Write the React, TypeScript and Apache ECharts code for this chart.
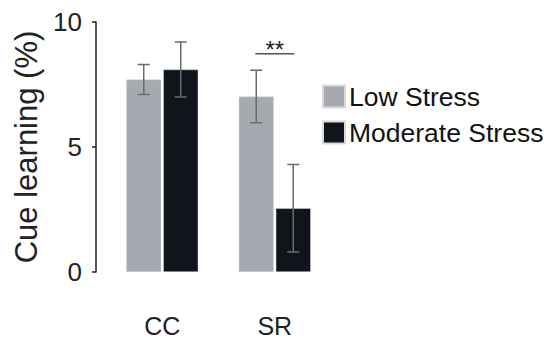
import React, { useEffect, useRef } from "react";
import * as echarts from "echarts";

const categories = ["CC", "SR"];
const lowStress = [7.7, 7.02];
const lowStressErr = [0.6, 1.05];
const moderateStress = [8.1, 2.55];
const moderateStressErr = [1.1, 1.75];
const yTicks = [0, 5, 10];
// significance bracket: [category index, y value, label]
const significance = [[1, 8.73, "**"]];

const FONT = "'Liberation Sans', Arial, sans-serif";
const BAR_W = 35;
const BAR_GAP_PX = 2;

function errorSeries(name: string, values: number[], errs: number[], side: number) {
  return {
    type: "custom",
    name: name + "-err",
    silent: true,
    z: 10,
    data: values.map((v, i) => [i, v - errs[i], v + errs[i]]),
    renderItem: (params: any, api: any) => {
      const idx = api.value(0);
      const lo = api.coord([idx, api.value(1)]);
      const hi = api.coord([idx, api.value(2)]);
      const x = lo[0] + side * (BAR_W / 2 + BAR_GAP_PX / 2);
      const cap = 6;
      const style = { stroke: "#6b6b6b", lineWidth: 1.5 };
      return {
        type: "group",
        children: [
          { type: "line", shape: { x1: x, y1: lo[1], x2: x, y2: hi[1] }, style },
          { type: "line", shape: { x1: x - cap, y1: lo[1], x2: x + cap, y2: lo[1] }, style },
          { type: "line", shape: { x1: x - cap, y1: hi[1], x2: x + cap, y2: hi[1] }, style },
        ],
      };
    },
  };
}

export default function App() {
  const ref = useRef<HTMLDivElement>(null);
  useEffect(() => {
    document.body.style.margin = "0";
    if (!ref.current) return;
    const chart = echarts.init(ref.current, undefined, { renderer: "svg" });
    chart.setOption({
      animation: false,
      backgroundColor: "#ffffff",
      grid: { left: 106, right: 213, top: 22, bottom: 68 },
      legend: {
        orient: "vertical",
        left: 317,
        top: 78,
        itemWidth: 22,
        itemHeight: 22,
        itemGap: 9,
        icon: "rect",
        data: ["Low Stress", "Moderate Stress"],
        textStyle: { fontFamily: FONT, fontSize: 26.5, color: "#111", padding: [0, 0, 0, -1] },
      },
      xAxis: {
        type: "category",
        data: categories,
        axisLine: { show: false },
        axisTick: { show: false },
        axisLabel: { fontFamily: FONT, fontSize: 25, lineHeight: 20, color: "#222", margin: 44 },
      },
      yAxis: {
        type: "value",
        min: 0,
        max: 10,
        interval: 5,
        offset: 10,
        name: "Cue learning (%)",
        nameLocation: "middle",
        nameGap: 54,
        nameTextStyle: { fontFamily: FONT, fontSize: 31, color: "#222" },
        axisLine: { show: true, lineStyle: { color: "#222", width: 1.5 } },
        axisTick: { show: true, length: 4, lineStyle: { color: "#222", width: 1.5 } },
        splitLine: { show: false },
        axisLabel: {
          fontFamily: FONT,
          fontSize: 26,
          color: "#222",
          margin: 14,
          formatter: (v: number) => (yTicks.includes(v) ? String(v) : ""),
        },
      },
      series: [
        {
          type: "bar",
          name: "Low Stress",
          data: lowStress,
          barWidth: BAR_W,
          barGap: (BAR_GAP_PX / BAR_W) * 100 + "%",
          itemStyle: { color: "#a6a9b0", borderColor: "#d8d9dc", borderWidth: 0.5 },
        },
        {
          type: "bar",
          name: "Moderate Stress",
          data: moderateStress,
          barWidth: BAR_W,
          itemStyle: { color: "#10141b", borderColor: "#d8d9dc", borderWidth: 0.5 },
        },
        errorSeries("Low Stress", lowStress, lowStressErr, -1),
        errorSeries("Moderate Stress", moderateStress, moderateStressErr, 1),
        {
          type: "custom",
          name: "sig",
          silent: true,
          z: 10,
          data: significance,
          renderItem: (params: any, api: any) => {
            const p = api.coord([api.value(0), api.value(1)]);
            const half = 19.5;
            return {
              type: "group",
              children: [
                {
                  type: "line",
                  shape: { x1: p[0] - half, y1: p[1], x2: p[0] + half, y2: p[1] },
                  style: { stroke: "#555", lineWidth: 1.5 },
                },
                {
                  type: "text",
                  x: p[0],
                  y: p[1] + 8,
                  style: {
                    text: String(significance[params.dataIndex][2]),
                    fontFamily: FONT,
                    fontSize: 24,
                    fill: "#222",
                    align: "center",
                    verticalAlign: "bottom",
                  },
                },
              ],
            };
          },
        },
      ],
    });
    return () => chart.dispose();
  }, []);
  return <div ref={ref} style={{ width: 544, height: 340 }} />;
}
